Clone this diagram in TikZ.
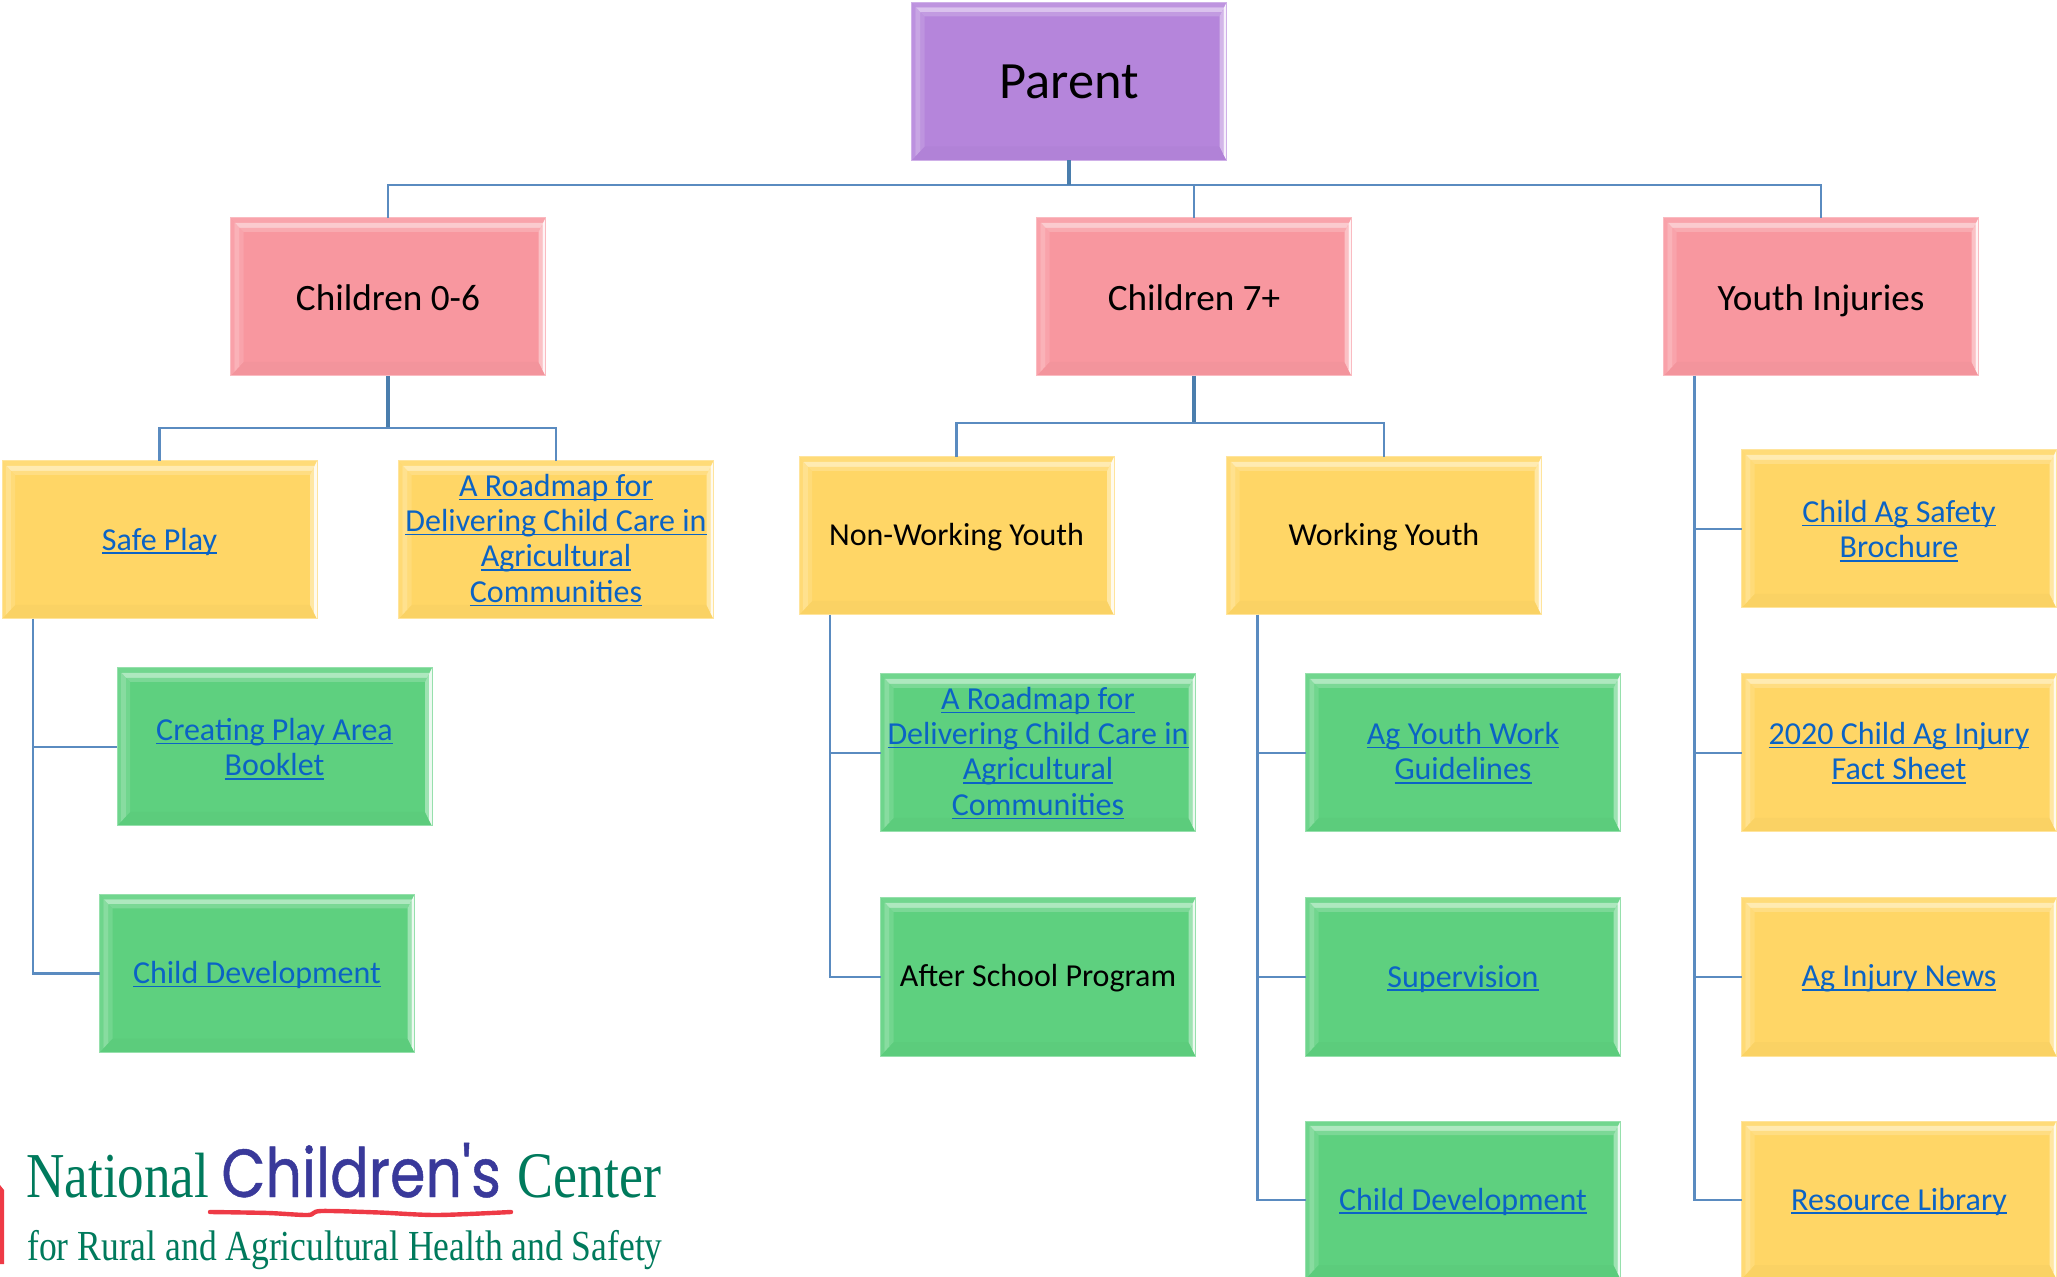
\documentclass[tikz,border=0pt]{standalone}
\usepackage{fontspec}
\usepackage{xcolor}
\setmainfont{Carlito}
\newfontfamily\logoserif[FakeStretch=0.83]{Liberation Serif}
\newfontfamily\logohand[FakeStretch=0.84,FakeBold=0.7]{Poppins}
\definecolor{parentcol}{HTML}{B585DB}
\definecolor{agecol}{HTML}{F8979F}
\definecolor{groupcol}{HTML}{FFD666}
\definecolor{itemcol}{HTML}{5ED07F}
\definecolor{linkcol}{HTML}{0B63C5}
\definecolor{linecol}{HTML}{5A8BC0}
\definecolor{trunkcol}{HTML}{4A7EAD}
\definecolor{logogreen}{HTML}{007A5C}
\definecolor{logoblue}{HTML}{39399A}
\definecolor{logored}{HTML}{EE3A46}
\newlength{\lnkwd}
\newcommand{\lnk}[1]{\settowidth{\lnkwd}{#1}\textcolor{linkcol}{\rlap{\rule[-1.9pt]{\lnkwd}{0.7pt}}#1}}
\newcommand{\bevel}[1]{%
  \coordinate (nw) at (path picture bounding box.north west);
  \coordinate (ne) at (path picture bounding box.north east);
  \coordinate (sw) at (path picture bounding box.south west);
  \coordinate (se) at (path picture bounding box.south east);
  \fill[#1!98!black] (sw) -- ([shift={(6.5pt,7pt)}]sw) -- ([shift={(-3.5pt,7pt)}]se) -- (se) -- cycle;
  \foreach \a/\b/\m in {0/.3/90, .3/.7/74, .7/1/88} {
    \fill[#1!\m!white] ([shift={({6.5pt*\a},{-7pt*\a})}]nw) -- ([shift={({6.5pt*\b},{-7pt*\b})}]nw)
      -- ([shift={({6.5pt*\b},{7pt*\b})}]sw) -- ([shift={({6.5pt*\a},{7pt*\a})}]sw) -- cycle;
  }
  \foreach \a/\b/\m in {0/.35/88, .35/.7/50, .7/1/82} {
    \fill[#1!\m!white] ([shift={({6.5pt*\a},{-7pt*\a})}]nw) -- ([shift={({-3.5pt*\a},{-7pt*\a})}]ne)
      -- ([shift={({-3.5pt*\b},{-7pt*\b})}]ne) -- ([shift={({6.5pt*\b},{-7pt*\b})}]nw) -- cycle;
  }
  \foreach \a/\b/\m in {0/.45/12, .45/1/60} {
    \fill[#1!\m!white] ([shift={({-3.5pt*\a},{-7pt*\a})}]ne) -- ([shift={({-3.5pt*\b},{-7pt*\b})}]ne)
      -- ([shift={({-3.5pt*\b},{7pt*\b})}]se) -- ([shift={({-3.5pt*\a},{7pt*\a})}]se) -- cycle;
  }
}

\begin{document}
\begin{tikzpicture}[
  x=0.5pt, y=-0.5pt,
  tile/.style={draw=#1!65!white, line width=0.5pt, fill=#1, outer sep=0pt, inner sep=0pt,
               minimum width=157.5pt, minimum height=79pt, align=center,
               font=\fontsize{16}{17.7}\selectfont, path picture={\bevel{#1}}},
  parentbox/.style={tile=parentcol, font=\fontsize{26.2}{28}\selectfont},
  agebox/.style={tile=agecol, font=\fontsize{18.6}{20}\selectfont,
                 text height=13.5pt, text depth=0pt},
  groupbox/.style={tile=groupcol, execute at begin node={\rule{0pt}{12.6pt}}},
  itembox/.style={tile=itemcol, execute at begin node={\rule{0pt}{12.6pt}}},
  link/.style={draw=linecol, line width=1.35pt},
  trunk/.style={draw=trunkcol, line width=1.7pt},
  logotext/.style={anchor=base west, inner sep=0pt, text=logogreen},
]
\clip (0,0) rectangle (2057,1277);

% Top row
\node[parentbox] (parent) at (1069,81.5) {Parent};
\node[agebox] (young) at (388,297) {Children 0-6};
\node[agebox] (older) at (1194,297) {Children 7+};
\node[agebox] (injury) at (1821,297) {Youth Injuries};

% Children 0-6
\node[groupbox] (safeplay) at (159.5,540) {\lnk{Safe Play}};
\node[groupbox] (roadmapa) at (556,540) {\lnk{A Roadmap for}\\\lnk{Delivering Child Care in}\\\lnk{Agricultural}\\\lnk{Communities}};
\node[itembox] (booklet) at (274.5,747) {\rule{0pt}{13.2pt}\lnk{Creating Play Area}\\\lnk{Booklet}};
\node[itembox] (devela) at (257,973.5) {\lnk{Child Development}};

% Children 7+
\node[groupbox] (nonwork) at (956.5,536) {Non-Working Youth};
\node[groupbox] (work) at (1384,536) {Working Youth};
\node[itembox] (roadmapb) at (1038,753) {\lnk{A Roadmap for}\\\lnk{Delivering Child Care in}\\\lnk{Agricultural}\\\lnk{Communities}};
\node[itembox] (school) at (1038,977) {After School Program};
\node[itembox] (guide) at (1463,753) {\lnk{Ag Youth Work}\\\lnk{Guidelines}};
\node[itembox] (superv) at (1463,977) {\lnk{Supervision}};
\node[itembox] (develb) at (1463,1200) {\lnk{Child Development}};

% Youth injuries
\node[groupbox] (brochure) at (1899,529) {\rule{0pt}{13.2pt}\lnk{Child Ag Safety}\\\lnk{Brochure}};
\node[groupbox] (sheet) at (1899,753) {\lnk{2020 Child Ag Injury}\\\lnk{Fact Sheet}};
\node[groupbox] (news) at (1899,977) {\lnk{Ag Injury News}};
\node[groupbox] (library) at (1899,1200) {\lnk{Resource Library}};

% Connectors
\coordinate (bus) at (1069,185);
\coordinate (busa) at (388,428);
\coordinate (busb) at (1194,423);
\draw[link] (bus) -| (young.north);
\draw[link] (bus) -| (older.north);
\draw[link] (bus) -| (injury.north);
\draw[trunk] (parent.south) -- (bus);
\draw[trunk] (young.south) -- (busa);
\draw[link] (busa) -| (safeplay.north);
\draw[link] (busa) -| (roadmapa.north);
\draw[trunk] (older.south) -- (busb);
\draw[link] (busb) -| (nonwork.north);
\draw[link] (busb) -| (work.north);
\draw[link] ([xshift=15.5pt]safeplay.south west) |- (booklet.west);
\draw[link] ([xshift=15.5pt]safeplay.south west) |- (devela.west);
\draw[link] ([xshift=15.5pt]nonwork.south west) |- (roadmapb.west);
\draw[link] ([xshift=15.5pt]nonwork.south west) |- (school.west);
\draw[link] ([xshift=15.5pt]work.south west) |- (guide.west);
\draw[link] ([xshift=15.5pt]work.south west) |- (superv.west);
\draw[link] ([xshift=15.5pt]work.south west) |- (develb.west);
\draw[link] ([xshift=15.5pt]injury.south west) |- (brochure.west);
\draw[link] ([xshift=15.5pt]injury.south west) |- (sheet.west);
\draw[link] ([xshift=15.5pt]injury.south west) |- (news.west);
\draw[link] ([xshift=15.5pt]injury.south west) |- (library.west);

% Logo
\node[logotext, font=\logoserif\fontsize{32}{34}\selectfont] (national) at (26,1197) {National};
\node[logotext, font=\logohand\fontsize{34}{40}\selectfont, text=logoblue] (childrens) at (221,1197) {Children's};
\node[logotext, font=\logoserif\fontsize{32.5}{34}\selectfont] (center) at (517,1197) {Center};
\node[logotext, font=\logoserif\fontsize{21.4}{23}\selectfont] (rural) at (27,1260) {for Rural and Agricultural Health and Safety};
\draw[logored, line width=2.2pt, line cap=round] plot[smooth] coordinates {(210,1212) (268,1213) (308,1215) (321,1211) (379,1212.5) (437,1215) (511,1212)};
\fill[logored] (0,1185) -- (4,1190) -- (4,1264) -- (0,1264) -- cycle;
\end{tikzpicture}
\end{document}
